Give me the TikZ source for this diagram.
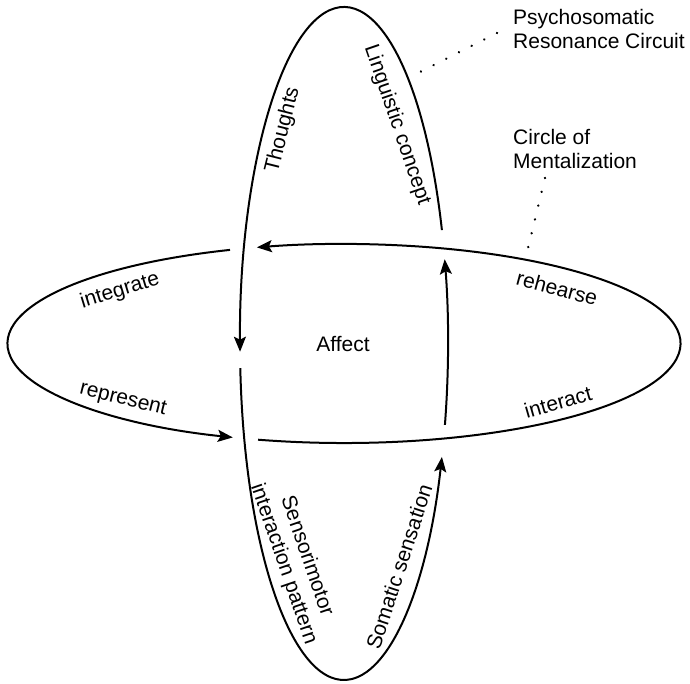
\documentclass[tikz,border=0pt]{standalone}
\usepackage{fontspec}
\setmainfont{Liberation Sans}
\usetikzlibrary{arrows.meta}

\begin{document}
\begin{tikzpicture}[x=1pt,y=1pt,
    loop/.style={line width=2pt},
    tip/.style={-{Stealth[length=15pt,width=12pt,inset=3pt]}},
    lbl/.style={inner sep=0pt, font=\fontsize{21}{24.5}\selectfont},
    leader/.style={line width=2.6pt, line cap=round, dash pattern=on 0.01pt off 14.2pt}]
  \useasboundingbox (0,0) rectangle (690,-683);
  \coordinate (C) at (344,-343.5);

  % horizontal loop (Circle of Mentalization)
  \draw[loop,tip] ([shift={(255.2:336.5 and 99.5)}]C)
    arc[start angle=255.2, end angle=465, x radius=336.5, y radius=99.5];
  \draw[loop,tip] ([shift={(109.8:336.5 and 99.5)}]C)
    arc[start angle=109.8, end angle=250.7, x radius=336.5, y radius=99.5];

  % vertical loop (Psychosomatic Resonance Circuit)
  \draw[loop,tip] ([shift={(19.7:104 and 336.5)}]C)
    arc[start angle=19.7, end angle=181.4, x radius=104, y radius=336.5];
  \draw[loop,tip] ([shift={(184.2:104 and 336.5)}]C)
    arc[start angle=184.2, end angle=340.3, x radius=104, y radius=336.5];
  \draw[loop,tip] ([shift={(346:104 and 336.5)}]C)
    arc[start angle=346, end angle=374.5, x radius=104, y radius=336.5];

  % labels
  \node[lbl] (affect) at (343,-344) {Affect};
  \node[lbl,rotate=76] (thoughts) at (283,-130) {Thoughts};
  \node[lbl,rotate=-71] (ling) at (397,-125) {Linguistic concept};
  \node[lbl,rotate=-71,align=center] (senso) at (295,-560) {Sensorimotor\\interaction pattern};
  \node[lbl,rotate=72] (soma) at (399,-567) {Somatic sensation};
  \node[lbl,rotate=17] (integ) at (120,-291) {integrate};
  \node[lbl,rotate=-14] (repr) at (123,-400) {represent};
  \node[lbl,rotate=-15] (rehe) at (557,-288) {rehearse};
  \node[lbl,rotate=16] (inter) at (558,-402) {interact};

  \node[lbl,align=left,anchor=north west] (psr) at (513,-9) {Psychosomatic\\Resonance Circuit};
  \node[lbl,align=left,anchor=north west] (com) at (513,-129) {Circle of\\Mentalization};

  % dotted leaders
  \coordinate (psrA) at (497,-33);
  \coordinate (psrB) at (418,-73);
  \coordinate (comA) at (545,-178);
  \coordinate (comB) at (528,-248);
  \draw[leader] (psrA) -- (psrB);
  \draw[leader] (comA) -- (comB);
\end{tikzpicture}
\end{document}
